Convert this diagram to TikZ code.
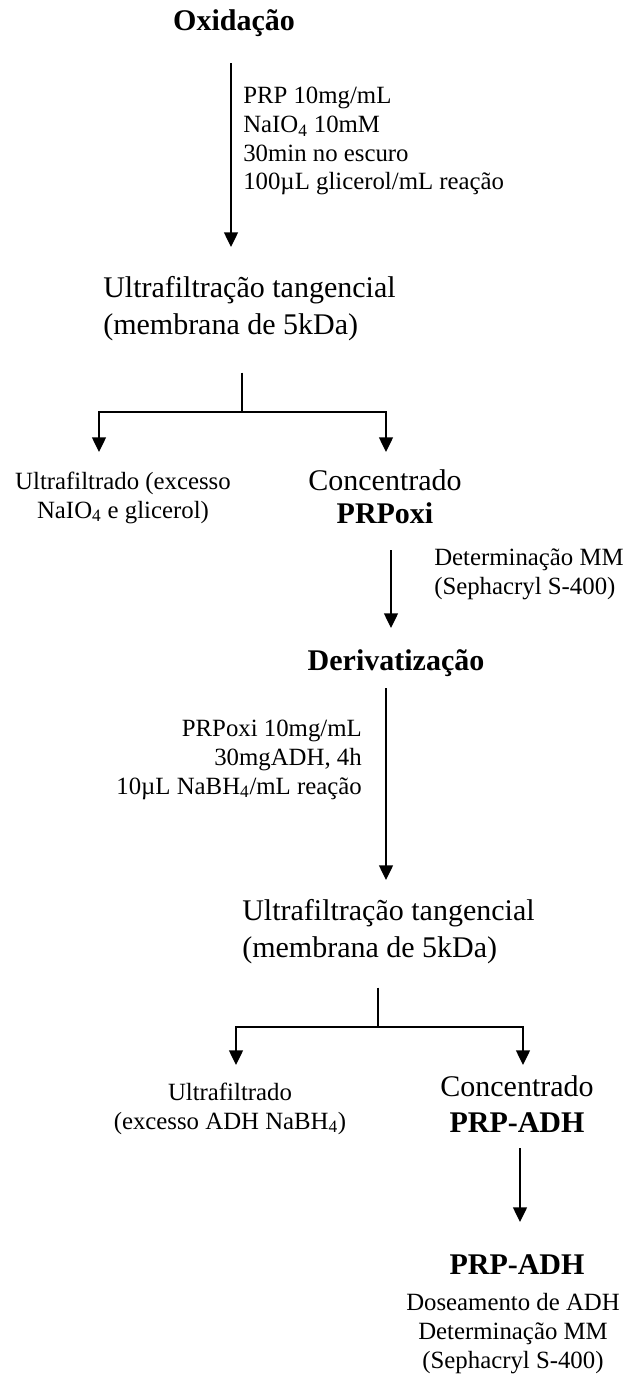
\documentclass[tikz,border=0pt]{standalone}
\usepackage{fontspec}
\setmainfont{Liberation Serif}
\usetikzlibrary{arrows.meta}

\begin{document}
\begin{tikzpicture}[x=0.75pt, y=-0.75pt, >={Triangle[width=10.5pt, length=11pt]},
	big/.style={inner sep=0pt, font=\fontsize{22.5}{27.75}\selectfont},
	small/.style={inner sep=0pt, font=\fontsize{18.6}{21.5}\selectfont},
	conn/.style={line width=1pt}]
	
	\useasboundingbox (0,0) rectangle (628,1377);
	
	% etapas (base = linha de baixo)
	\node [big, anchor=base] (oxid) at (234,31) {\textbf{Oxidação}};
	\node [small, anchor=base west, align=left] (cond-1) at (243,190) {PRP 10mg/mL\\NaIO\textsubscript{4} 10mM\\30min no escuro\\100µL glicerol/mL reação};
	\node [big, anchor=base west, align=left] (uf-1) at (103,334) {Ultrafiltração tangencial\\(membrana de 5kDa)};
	\node [small, anchor=base, align=center] (filt-1) at (123,518) {Ultrafiltrado (excesso\\NaIO\textsubscript{4} e glicerol)};
	\node [big, anchor=base, align=center] (conc-1) at (385,523) {Concentrado\\[-3pt]\textbf{PRPoxi}};
	\node [small, anchor=base west, align=left] (mm-1) at (434,594) {Determinação MM\\(Sephacryl S-400)};
	\node [big, anchor=base] (deriv) at (396,670) {\textbf{Derivatização}};
	\node [small, anchor=base east, align=right] (cond-2) at (362,794) {PRPoxi 10mg/mL\\30mgADH, 4h\\10µL NaBH\textsubscript{4}/mL reação};
	\node [big, anchor=base west, align=left] (uf-2) at (242,957) {Ultrafiltração tangencial\\(membrana de 5kDa)};
	\node [small, anchor=base, align=center] (filt-2) at (230,1129) {Ultrafiltrado\\(excesso ADH NaBH\textsubscript{4})};
	\node [big, anchor=base, align=center] (conc-2) at (517,1132) {Concentrado\\[-0.75pt]\textbf{PRP-ADH}};
	\node [big, anchor=base] (prpadh) at (517,1274) {\textbf{PRP-ADH}};
	\node [small, anchor=base, align=center] (dos) at (513,1368) {Doseamento de ADH\\Determinação MM\\(Sephacryl S-400)};
	
	% pontas e bifurcacoes
	\coordinate (tip-1) at (231,247);
	\coordinate (tip-2) at (391,628);
	\coordinate (tip-3) at (386,880);
	\coordinate (tip-4) at (520,1222);
	\coordinate (fork-1) at (242,412);
	\coordinate (fork-2) at (378,1027);
	\coordinate (fork-1l) at (99,452);
	\coordinate (fork-1r) at (386,452);
	\coordinate (fork-2l) at (236,1065);
	\coordinate (fork-2r) at (523,1065);
	
	\draw [conn, ->, shorten <=19.5pt] (oxid.south -| tip-1) -- (tip-1);
	\draw [conn, ->, shorten <=20pt] (conc-1.south -| tip-2) -- (tip-2);
	\draw [conn, ->, shorten <=9pt] (deriv.south -| tip-3) -- (tip-3);
	\draw [conn, ->, shorten <=12pt] (conc-2.south -| tip-4) -- (tip-4);
	
	\draw [conn, shorten <=24pt] (uf-1.south -| fork-1) -- (fork-1);
	\draw [conn, shorten <=18pt] (uf-2.south -| fork-2) -- (fork-2);
	
	\foreach \i in {1,2}
	\draw [conn, ->] (fork-\i) -| (fork-\i l);
	
	\foreach \i in {1,2}
	\draw [conn, ->] (fork-\i) -| (fork-\i r);
\end{tikzpicture}
\end{document}
